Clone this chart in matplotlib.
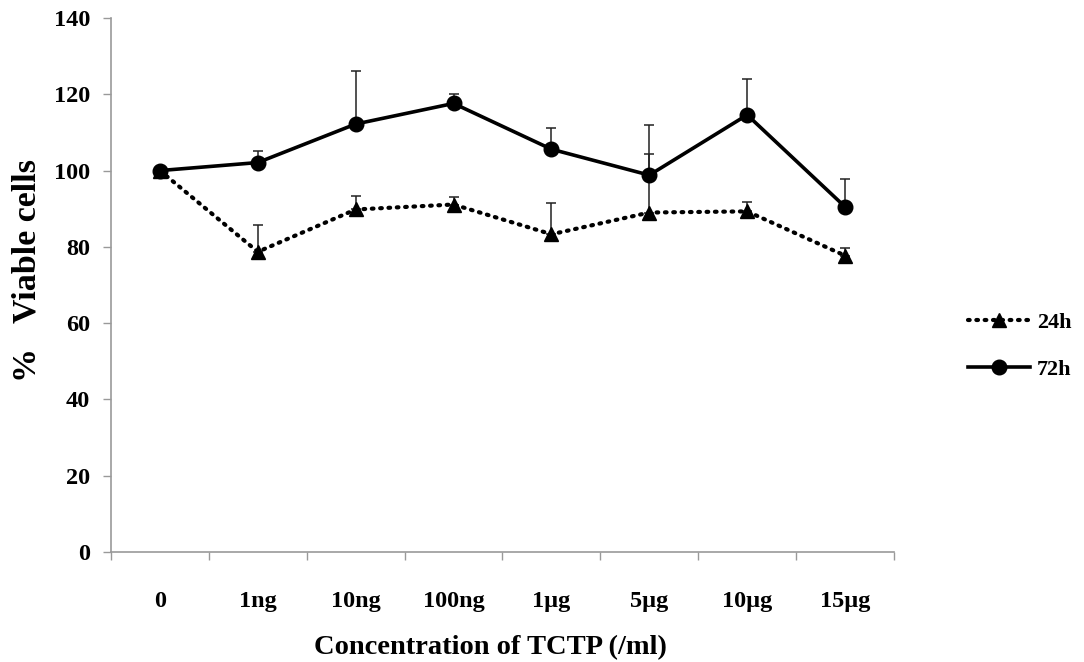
import numpy as np
import matplotlib.pyplot as plt

# data
conc = ["0", "1ng", "10ng", "100ng", "1\u00b5g", "5\u00b5g", "10\u00b5g", "15\u00b5g"]
h24 = [100.0, 78.7, 89.8, 91.1, 83.3, 89.0, 89.3, 77.7]
h24_err = [0.0, 6.9, 3.6, 2.1, 8.1, 15.4, 2.5, 2.1]
h72 = [100.0, 102.1, 112.2, 117.6, 105.6, 98.8, 114.6, 90.5]
h72_err = [0.0, 3.1, 13.9, 2.5, 5.5, 13.2, 9.4, 7.4]

plt.rcParams['font.family'] = ['Liberation Serif', 'DejaVu Serif']
plt.rcParams['font.weight'] = 'bold'

fig = plt.figure(figsize=(10.84, 6.62), dpi=100)
ax = fig.add_axes([0.1024, 0.1662, 0.7223, 0.8066])

x = np.arange(len(conc))

ax.errorbar(x, h24, yerr=[np.zeros(len(x)), h24_err], fmt='none',
            ecolor='#222222', elinewidth=1.1, capsize=3.5, capthick=1.1, zorder=2)
ax.errorbar(x, h72, yerr=[np.zeros(len(x)), h72_err], fmt='none',
            ecolor='#222222', elinewidth=1.1, capsize=3.5, capthick=1.1, zorder=2)

ax.plot(x, h24, color='black', lw=3, linestyle=(0, (0.4, 1.6)),
        dash_capstyle='round', marker='^', markersize=10, label='24h', zorder=3)
ax.plot(x, h72, color='black', lw=2.6, marker='o', markersize=10.5,
        label='72h', zorder=4)

ax.set_xlim(-0.5, len(conc) - 0.5)
ax.set_ylim(0, 140)
ax.set_yticks(np.arange(0, 141, 20))
ax.set_xticks(x)
ax.set_xticklabels(conc)
ax.set_xticks(np.arange(-0.5, len(conc), 1), minor=True)
ax.tick_params(axis='x', which='major', length=0, pad=28, labelsize=17.5)
ax.tick_params(axis='x', which='minor', length=6, color='#999999', width=1)
ax.tick_params(axis='y', length=6, color='#999999', width=1, pad=9, labelsize=17.5)

for s in ['top', 'right']:
    ax.spines[s].set_visible(False)
for s in ['left', 'bottom']:
    ax.spines[s].set_color('#999999')
    ax.spines[s].set_linewidth(1.2)

ax.set_xlabel('Concentration of TCTP (/ml)', fontsize=20.5, fontweight='bold')
ax.set_ylabel('%   Viable cells', fontsize=24.5, fontweight='bold')
ax.xaxis.set_label_coords(0.485, -0.155)
ax.yaxis.set_label_coords(-0.088, 0.528)

ax.legend(loc='center left', bbox_to_anchor=(0.893, 0.477),
          bbox_transform=fig.transFigure, borderaxespad=0, borderpad=0,
          frameon=False, fontsize=16, handlelength=2.8, handletextpad=0.3,
          labelspacing=1.2)

fig.savefig('out.png', dpi=100)
